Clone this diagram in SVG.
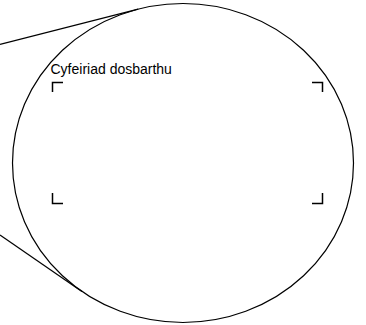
<svg xmlns="http://www.w3.org/2000/svg" width="366" height="325" viewBox="0 0 366 325">
<style>
.ln{fill:none;stroke:#000;stroke-width:1.2}
.br{fill:none;stroke:#000;stroke-width:1.5}
.t{font-family:"Liberation Sans",Arial,sans-serif;font-size:14px;fill:#000}
</style>
<rect width="366" height="325" fill="#fff"/>
<g id="connectors">
<line class="ln" x1="0" y1="44.3" x2="138.2" y2="9.1"/>
<line class="ln" x1="0" y1="235" x2="81.9" y2="291.4"/>
</g>
<g id="detail">
<ellipse class="ln" cx="183" cy="163" rx="170.5" ry="159.5"/>
<text class="t" x="50.5" y="74">Cyfeiriad dosbarthu</text>
<path class="br" d="M52.5,92 V82.5 H63"/>
<path class="br" d="M312,82.5 H322.5 V92"/>
<path class="br" d="M52.5,193 V203.5 H63"/>
<path class="br" d="M312,203.5 H322.5 V193"/>
</g>
</svg>
